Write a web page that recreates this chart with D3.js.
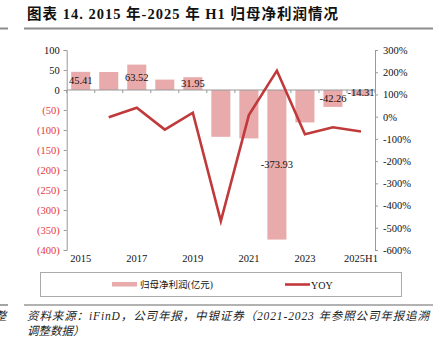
<!DOCTYPE html>
<html><head><meta charset="utf-8">
<script src="https://cdn.jsdelivr.net/npm/d3@7"></script>
<style>
html,body{margin:0;padding:0;background:#fff;}
svg{display:block;}
</style></head>
<body>
<script>
const categories = ["2015","2016","2017","2018","2019","2020","2021","2022","2023","2024","2025H1"];
const profit = [45.41, 45.0, 63.52, 26.0, 31.95, -117.0, -121.0, -373.93, -81.0, -42.26, -14.31];
const profitLabels = ["45.41", null, "63.52", null, "31.95", null, null, "-373.93", null, "-42.26", "-14.31"];
const yoy = [null, -3, 40, -58, 18, -470, 7, 207, -79, -48, -67];
const leftTicks = [100, 50, 0, -50, -100, -150, -200, -250, -300, -350, -400];
const rightTicks = [300, 200, 100, 0, -100, -200, -300, -400, -500, -600];
const xLabelShown = ["2015","2017","2019","2021","2023","2025H1"];

(function(){
const W = 433, H = 338;
const serif = '"Times New Roman","Liberation Serif",serif';
const cjk = '"Liberation Serif","Noto Sans CJK SC",sans-serif';
const barColor = "#E8AAAA", lineColor = "#C0393B";

const svg = d3.select("body").append("svg").attr("width", W).attr("height", H);

// Title
svg.append("text").attr("x", 27).attr("y", 19)
  .attr("font-family", '"Liberation Serif","Noto Sans CJK SC",serif')
  .attr("font-weight", "bold").attr("font-size", 14.5).attr("fill", "#111")
  .attr("textLength", 311).attr("lengthAdjust", "spacing")
  .text("图表 14. 2015 年-2025 年 H1 归母净利润情况");
svg.append("line").attr("x1", 24).attr("x2", W).attr("y1", 28.5).attr("y2", 28.5)
  .attr("stroke", "#8c8c8c").attr("stroke-width", 2);
svg.append("line").attr("x1", 0).attr("x2", 8).attr("y1", 28.5).attr("y2", 28.5)
  .attr("stroke", "#8c8c8c").attr("stroke-width", 2);

const pl = 66.7, pr = 375, pt = 50, pb = 250;
const x = d3.scaleBand().domain(categories).range([pl, pr]).paddingInner(0.32).paddingOuter(0.16);
const yL = d3.scaleLinear().domain([-400, 100]).range([pb, pt]);
const yR = d3.scaleLinear().domain([-600, 300]).range([pb, pt]);

// Bars
svg.append("g").selectAll("rect").data(categories).join("rect")
  .attr("x", d => x(d)).attr("width", x.bandwidth())
  .attr("y", (d, i) => yL(Math.max(0, profit[i])))
  .attr("height", (d, i) => Math.abs(yL(profit[i]) - yL(0)))
  .attr("fill", barColor);

// Left axis
const gL = svg.append("g").attr("transform", `translate(${pl},0)`)
  .call(d3.axisLeft(yL).tickValues(leftTicks).tickSize(3).tickPadding(4)
    .tickFormat(d => d < 0 ? `(${-d})` : `${d}`));
gL.select(".domain").attr("stroke", "#999");
gL.selectAll(".tick line").attr("stroke", "#999");
gL.selectAll(".tick text").attr("font-family", serif).attr("font-size", 10.5)
  .attr("fill", d => d < 0 ? "#E8383D" : "#111");

// Right axis
const gR = svg.append("g").attr("transform", `translate(${pr},0)`)
  .call(d3.axisRight(yR).tickValues(rightTicks).tickSize(3).tickPadding(5)
    .tickFormat(d => `${d}%`));
gR.select(".domain").attr("stroke", "#999");
gR.selectAll(".tick line").attr("stroke", "#999");
gR.selectAll(".tick text").attr("font-family", serif).attr("font-size", 10.5).attr("fill", "#111");

// X axis at zero
const step = x.step();
const boundaries = d3.range(categories.length + 1).map(i => pl + i * step);
const gX = svg.append("g");
gX.append("line").attr("x1", pl).attr("x2", pr).attr("y1", yL(0)).attr("y2", yL(0))
  .attr("stroke", "#999");
gX.selectAll(".bt").data(boundaries).join("line").attr("class", "bt")
  .attr("x1", d => d).attr("x2", d => d).attr("y1", yL(0)).attr("y2", yL(0) + 3)
  .attr("stroke", "#999");
svg.append("g").selectAll("text").data(xLabelShown).join("text")
  .attr("x", d => x(d) + x.bandwidth() / 2).attr("y", 262)
  .attr("text-anchor", "middle").attr("font-family", serif).attr("font-size", 10.5)
  .attr("fill", "#111").text(d => d);

// Bar labels
svg.append("g").selectAll("text").data(categories.map((c, i) => ({c, i})).filter(d => profitLabels[d.i]))
  .join("text")
  .attr("x", d => x(d.c) + x.bandwidth() / 2)
  .attr("y", d => (yL(0) + yL(profit[d.i])) / 2 + 3.5)
  .attr("text-anchor", "middle").attr("font-family", serif).attr("font-size", 10.5)
  .attr("fill", "#111").text(d => profitLabels[d.i]);

// YOY line
const line = d3.line().defined(d => d.v != null)
  .x(d => x(d.c) + x.bandwidth() / 2).y(d => yR(d.v));
svg.append("path").datum(categories.map((c, i) => ({c, v: yoy[i]})))
  .attr("d", line).attr("fill", "none").attr("stroke", lineColor).attr("stroke-width", 2.6)
  .attr("stroke-linejoin", "miter");

// Legend
svg.append("rect").attr("x", 40.5).attr("y", 272.5).attr("width", 361).attr("height", 24)
  .attr("fill", "none").attr("stroke", "#aaa");
svg.append("rect").attr("x", 112).attr("y", 282).attr("width", 25).attr("height", 4.5).attr("fill", barColor);
svg.append("text").attr("x", 140).attr("y", 288).attr("font-family", cjk).attr("font-size", 9.5)
  .attr("fill", "#111").text("归母净利润(亿元)");
svg.append("line").attr("x1", 285).attr("x2", 310).attr("y1", 284.5).attr("y2", 284.5)
  .attr("stroke", lineColor).attr("stroke-width", 2.6);
svg.append("text").attr("x", 311).attr("y", 288.5).attr("font-family", serif).attr("font-size", 10)
  .attr("fill", "#111").text("YOY");

// Footer
svg.append("line").attr("x1", 24).attr("x2", W).attr("y1", 305).attr("y2", 305)
  .attr("stroke", "#666").attr("stroke-width", 1.2);
svg.append("line").attr("x1", 0).attr("x2", 8).attr("y1", 305).attr("y2", 305)
  .attr("stroke", "#666").attr("stroke-width", 1.2);
svg.append("text").attr("x", -5).attr("y", 320).attr("font-family", cjk).attr("font-size", 11.5)
  .attr("font-style", "italic").attr("fill", "#222").text("整");
svg.append("text").attr("x", 27).attr("y", 320).attr("font-family", cjk).attr("font-size", 11.5)
  .attr("font-style", "italic").attr("fill", "#222")
  .attr("textLength", 402).attr("lengthAdjust", "spacing")
  .text("资料来源：iFinD，公司年报，中银证券（2021-2023 年参照公司年报追溯");
svg.append("text").attr("x", 27).attr("y", 335).attr("font-family", cjk).attr("font-size", 11.5)
  .attr("font-style", "italic").attr("fill", "#222").text("调整数据）");
})();
</script>
</body></html>
